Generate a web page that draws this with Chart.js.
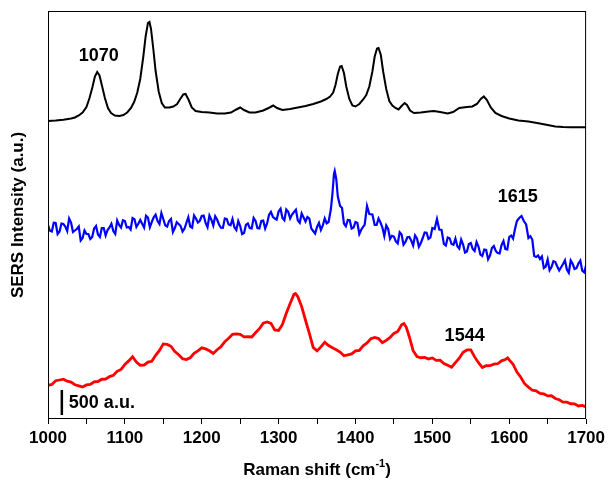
<!DOCTYPE html>
<html>
<head>
<meta charset="utf-8">
<script src="https://cdn.jsdelivr.net/npm/chart.js@4.4.0/dist/chart.umd.min.js"></script>
<style>
  body { margin: 0; background: #fff; }
  #wrap { width: 609px; height: 487px; }
</style>
</head>
<body>
<div id="wrap"><canvas id="ramanChart"></canvas></div>
<script>
// espectros SERS (intensidad en a.u., ya desplazados verticalmente)
const blackX = [1000,1010,1020,1030,1035,1040,1045,1050,1054,1058,1061,1064,1067,1070,1074,1078,1082,1087,1093,1098,
  1103,1108,1112,1116,1120,1124,1127,1130,1132,1134,1137,1140,1144,1148,1152,1158,1163,1168,1172,1176,
  1179,1183,1187,1192,1200,1210,1220,1230,1238,1245,1250,1255,1262,1270,1280,1287,1293,1298,1305,1315,
  1325,1335,1345,1355,1362,1367,1371,1374,1377,1380,1382,1385,1388,1392,1396,1400,1405,1410,1414,1418,
  1422,1425,1428,1430,1433,1436,1440,1444,1448,1452,1456,1460,1464,1467,1471,1476,1485,1495,1502,1510,
  1520,1527,1535,1545,1552,1558,1563,1567,1571,1576,1582,1590,1600,1612,1625,1638,1650,1660,1670,1680,
  1690,1700];
const blackY = [5960,5970,5985,6010,6030,6070,6130,6240,6420,6650,6850,6940,6870,6680,6420,6220,6120,6070,6060,6080,
  6130,6220,6340,6520,6800,7250,7650,7920,7940,7800,7400,6960,6550,6320,6230,6230,6250,6300,6400,6490,
  6500,6380,6230,6160,6140,6130,6110,6110,6130,6190,6230,6180,6130,6130,6170,6220,6270,6220,6180,6200,
  6230,6260,6300,6350,6400,6450,6530,6680,6900,7050,7060,6920,6650,6400,6270,6250,6300,6390,6480,6650,
  6950,7250,7410,7420,7280,6950,6600,6360,6270,6220,6190,6260,6320,6280,6170,6120,6130,6150,6160,6140,
  6110,6140,6220,6240,6250,6300,6400,6450,6380,6230,6120,6060,6010,5970,5950,5915,5880,5850,5840,5836,
  5834,5834];

// azul: lecturas principales
const blueX = [1000,1005,1010,1015,1020,1025,1030,1035,1040,1045,1050,1055,1060,1065,1070,1075,1080,1085,1090,1095,
  1100,1105,1110,1115,1120,1125,1130,1135,1140,1145,1150,1155,1160,1165,1170,1175,1180,1185,1190,1195,
  1200,1205,1210,1215,1220,1225,1230,1235,1240,1245,1250,1255,1260,1265,1270,1275,1280,1285,1290,1295,
  1300,1305,1310,1315,1320,1325,1330,1335,1340,1345,1350,1355,1360,1365,1368,1370,1372,1373,1375,1377,
  1380,1385,1390,1395,1400,1405,1408,1412,1415,1418,1422,1425,1430,1435,1440,1445,1450,1455,1460,1465,
  1470,1475,1480,1485,1490,1495,1500,1503,1506,1509,1512,1515,1520,1525,1530,1535,1540,1545,1550,1555,
  1560,1565,1570,1575,1580,1585,1590,1595,1600,1605,1610,1613,1616,1619,1622,1625,1630,1635,1640,1645,
  1650,1655,1660,1665,1670,1675,1680,1685,1690,1695,1700];
const blueY = [3880,3750,3920,3750,3900,3760,3930,3770,3850,3620,3700,3600,3810,3690,3820,3670,3830,3760,3970,3830,
  3960,3840,4020,3840,3980,3830,4030,3940,4085,3900,4000,3850,4000,3820,3900,3750,3920,3850,4070,3930,
  4060,3920,4070,3870,3990,3825,4010,3890,4000,3780,3860,3720,3910,3810,3960,3810,3970,3910,4140,4010,
  4150,4020,4190,4010,4140,3970,4110,3950,4010,3760,3840,3780,4010,3940,4200,4500,4900,4960,4800,4450,
  4260,3910,3980,3810,3940,3700,3800,3890,4260,4100,4090,3880,4010,3830,3870,3600,3650,3510,3690,3540,
  3640,3470,3610,3520,3730,3600,3820,3800,4000,3790,3780,3500,3630,3500,3610,3410,3490,3350,3520,3360,
  3450,3260,3380,3270,3460,3320,3480,3400,3640,3610,3960,4020,4060,3960,3890,3620,3590,3240,3200,3020,
  3190,3040,3140,2970,3100,2990,3170,3000,3110,2965,3070];
// azul: lecturas intermedias (ruido)
const blueX2 = [1002.5,1007.5,1012.5,1017.5,1022.5,1027.5,1032.5,1037.5,1042.5,1047.5,1052.5,1057.5,1062.5,1067.5,1072.5,
  1077.5,1082.5,1087.5,1092.5,1097.5,1102.5,1107.5,1112.5,1117.5,1122.5,1127.5,1132.5,1137.5,1142.5,1147.5,
  1152.5,1157.5,1162.5,1167.5,1172.5,1177.5,1182.5,1187.5,1192.5,1197.5,1202.5,1207.5,1212.5,1217.5,1222.5,
  1227.5,1232.5,1237.5,1242.5,1247.5,1252.5,1257.5,1262.5,1267.5,1272.5,1277.5,1282.5,1287.5,1292.5,1297.5,
  1302.5,1307.5,1312.5,1317.5,1322.5,1327.5,1332.5,1337.5,1342.5,1347.5,1352.5,1357.5,1362.5,
  1382.5,1387.5,1392.5,1397.5,1402.5,
  1427.5,1432.5,1437.5,1442.5,1447.5,1452.5,1457.5,1462.5,1467.5,1472.5,1477.5,1482.5,1487.5,1492.5,1497.5,
  1517.5,1522.5,1527.5,1532.5,1537.5,1542.5,1547.5,1552.5,1557.5,1562.5,1567.5,1572.5,1577.5,1582.5,1587.5,
  1592.5,1597.5,1602.5,1607.5,
  1627.5,1632.5,1637.5,1642.5,1647.5,1652.5,1657.5,1662.5,1667.5,1672.5,1677.5,1682.5,1687.5,1692.5,1697.5];
const blueY2 = [3765,3925,3700,3910,3850,4010,3740,3800,3570,3770,3700,3640,3860,3640,3820,
  3780,3905,3700,3880,3975,3830,3790,3995,3905,3905,4065,3835,4032,3958,4120,
  3875,3960,3740,3935,3860,3805,4035,3825,4010,3965,4070,3835,3985,4055,3888,
  3822,4000,3875,3835,3960,3700,3880,3820,4020,3820,3960,3810,4080,4045,3990,
  4205,3975,4145,4090,4185,3925,4030,4040,3810,3710,3920,3870,3915,
  4220,3855,3975,3830,3920,
  3880,3930,3660,3800,3665,3550,3735,3485,3635,3570,3670,3445,3620,3725,3630,
  3470,3615,3485,3455,3590,3330,3500,3400,3540,3290,3390,3195,3420,3360,3310,
  3560,3390,3670,3800,
  3655,3260,3270,3250,3050,2975,3155,3050,3035,3175,2925,3105,3015,3168,2932];

const redX = [1000,1005,1010,1015,1020,1025,1030,1035,1040,1045,1050,1055,1060,1065,1070,1075,1080,1085,1090,1095,
  1100,1105,1110,1115,1120,1125,1130,1135,1140,1145,1150,1155,1160,1165,1170,1175,1180,1185,1190,1195,
  1200,1205,1210,1215,1220,1225,1230,1235,1240,1245,1250,1255,1260,1265,1270,1275,1280,1285,1290,1295,
  1300,1305,1310,1315,1320,1322,1325,1330,1335,1340,1345,1350,1355,1360,1365,1370,1375,1380,1385,1390,
  1395,1400,1405,1410,1415,1420,1425,1430,1435,1440,1445,1450,1455,1460,1463,1466,1470,1475,1480,1485,
  1490,1495,1500,1505,1510,1515,1520,1525,1530,1535,1540,1545,1550,1555,1560,1565,1570,1575,1580,1585,
  1590,1595,1598,1600,1605,1610,1615,1620,1625,1630,1635,1640,1645,1650,1655,1660,1665,1670,1675,1680,
  1685,1690,1695,1700];
const redY = [672,692,765,780,795,756,738,685,663,641,682,692,745,750,795,796,848,875,953,991,
  1092,1162,1245,1140,1075,1076,1138,1155,1273,1371,1502,1492,1455,1350,1285,1206,1188,1225,1313,1361,
  1422,1402,1365,1310,1385,1446,1548,1615,1693,1701,1692,1642,1645,1640,1725,1806,1918,1940,1913,1781,
  1772,1892,2115,2310,2495,2510,2446,2248,1975,1713,1431,1362,1442,1535,1470,1425,1386,1338,1265,1283,
  1301,1362,1372,1465,1520,1605,1631,1608,1525,1573,1631,1712,1752,1885,1910,1840,1645,1366,1248,1225,
  1233,1201,1222,1172,1175,1110,1075,1036,1128,1215,1333,1381,1382,1242,1125,1030,1065,1066,1098,1105,
  1163,1191,1222,1182,1095,940,835,706,638,575,563,511,502,462,465,410,385,336,338,305,
  303,261,272,242];

const peakNotes = [
  { text: '1070', x: 1066, y: 7260 },
  { text: '1615', x: 1611, y: 4440 },
  { text: '1544', x: 1542, y: 1660 }
];
const barAt = [1018, 80];
const barSize = 500;

function puntos(xs, ys) {
  return xs.map((v, i) => ({ x: v, y: ys[i] })).sort((a, b) => a.x - b.x);
}

const ramanExtras = {
  id: 'ramanExtras',
  afterDraw(chart) {
    const { ctx, chartArea: a, scales: { x, y } } = chart;
    ctx.save();
    ctx.strokeStyle = '#000';
    ctx.lineWidth = 1;
    ctx.strokeRect(a.left + 0.5, a.top + 0.5, a.right - a.left - 1, a.bottom - a.top - 1);

    ctx.fillStyle = '#000';
    ctx.font = 'bold 18px "Liberation Sans", Arial, sans-serif';
    ctx.textAlign = 'center';
    ctx.textBaseline = 'middle';
    peakNotes.forEach(p => ctx.fillText(p.text, x.getPixelForValue(p.x), y.getPixelForValue(p.y)));

    // barra de escala
    const bx = x.getPixelForValue(barAt[0]);
    const b0 = y.getPixelForValue(barAt[1]);
    const b1 = y.getPixelForValue(barAt[1] + barSize);
    ctx.lineWidth = 2.5;
    ctx.beginPath();
    ctx.moveTo(bx, b0);
    ctx.lineTo(bx, b1);
    ctx.stroke();
    ctx.textAlign = 'left';
    ctx.fillText(barSize + ' a.u.', bx + 7, (b0 + b1) / 2 + 1);

    // titulo eje x con superindice
    const main = 'Raman shift (cm';
    const sup = '-1';
    const end = ')';
    ctx.font = 'bold 17px "Liberation Sans", Arial, sans-serif';
    const w1 = ctx.measureText(main).width;
    const w3 = ctx.measureText(end).width;
    ctx.font = 'bold 11px "Liberation Sans", Arial, sans-serif';
    const w2 = ctx.measureText(sup).width;
    let tx = (a.left + a.right) / 2 - (w1 + w2 + w3) / 2;
    const ty = 470;
    ctx.font = 'bold 17px "Liberation Sans", Arial, sans-serif';
    ctx.fillText(main, tx, ty);
    tx += w1;
    ctx.font = 'bold 11px "Liberation Sans", Arial, sans-serif';
    ctx.fillText(sup, tx, ty - 6);
    tx += w2;
    ctx.font = 'bold 17px "Liberation Sans", Arial, sans-serif';
    ctx.fillText(end, tx, ty);
    ctx.restore();
  }
};

const ctxRaman = document.getElementById('ramanChart').getContext('2d');
new Chart(ctxRaman, {
  type: 'line',
  data: {
    datasets: [
      { data: puntos(blackX, blackY), borderColor: '#000000', borderWidth: 2 },
      { data: puntos(blueX.concat(blueX2), blueY.concat(blueY2)), borderColor: '#0000ff', borderWidth: 2.2 },
      { data: puntos(redX, redY), borderColor: '#ff0000', borderWidth: 2.8 }
    ]
  },
  options: {
    responsive: true,
    maintainAspectRatio: false,
    animation: false,
    devicePixelRatio: 1,
    layout: { padding: { top: 11, right: 21, left: 0, bottom: 0 } },
    elements: { point: { radius: 0 }, line: { tension: 0 } },
    plugins: { legend: { display: false }, tooltip: { enabled: false } },
    scales: {
      x: {
        type: 'linear',
        min: 1000,
        max: 1700,
        border: { display: false },
        grid: { display: true, drawOnChartArea: false, drawTicks: true, tickLength: 5, color: '#000' },
        ticks: {
          stepSize: 50,
          autoSkip: false,
          maxRotation: 0,
          padding: 4,
          color: '#000',
          font: { family: '"Liberation Sans", Arial, sans-serif', size: 17, weight: 'bold' },
          callback: v => (v % 100 === 0 ? v : '')
        },
        afterFit: s => { s.height = 68; }
      },
      y: {
        min: 0,
        max: 8160,
        border: { display: false },
        grid: { display: false },
        ticks: { display: false },
        title: {
          display: true,
          text: 'SERS Intensity (a.u.)',
          color: '#000',
          padding: { top: 8, bottom: 0 },
          font: { family: '"Liberation Sans", Arial, sans-serif', size: 17, weight: 'bold' }
        },
        afterFit: s => { s.width = 48; }
      }
    }
  },
  plugins: [ramanExtras]
});
</script>
</body>
</html>
